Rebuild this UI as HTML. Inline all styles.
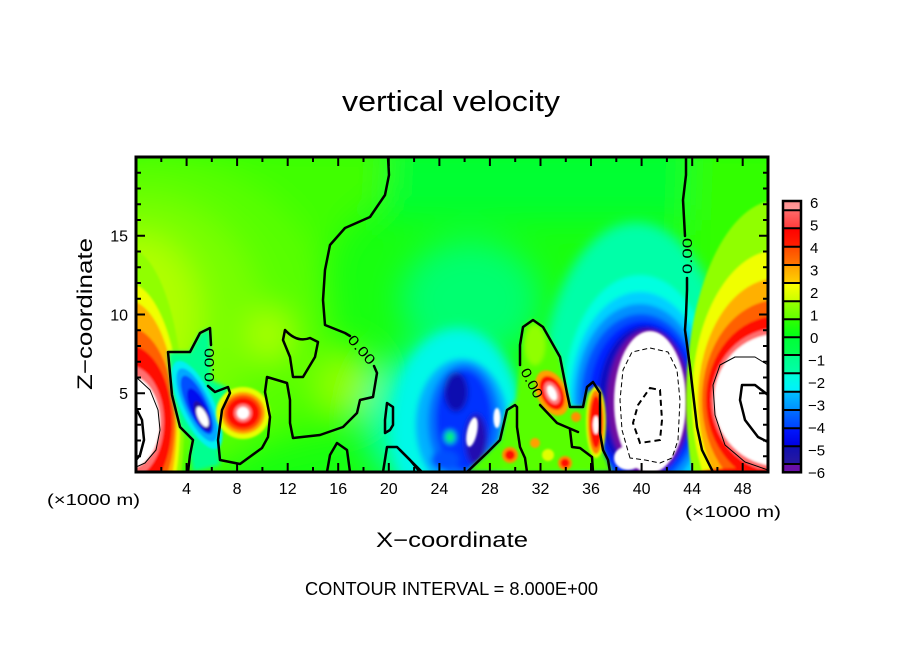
<!DOCTYPE html>
<html><head><meta charset="utf-8"><style>
html,body{margin:0;padding:0;background:#fff;}
svg{display:block;}
text{font-family:"Liberation Sans",sans-serif;fill:#000;}
</style></head><body>
<svg width="904" height="654" viewBox="0 0 904 654" xmlns="http://www.w3.org/2000/svg">
<defs>
<clipPath id="c"><rect x="136" y="157" width="632" height="315"/></clipPath>
<filter id="b16" filterUnits="userSpaceOnUse" x="0" y="0" width="904" height="654"><feGaussianBlur stdDeviation="16"/></filter>
<filter id="b6" filterUnits="userSpaceOnUse" x="0" y="0" width="904" height="654"><feGaussianBlur stdDeviation="6"/></filter>
<filter id="b3" filterUnits="userSpaceOnUse" x="0" y="0" width="904" height="654"><feGaussianBlur stdDeviation="3"/></filter>
<filter id="b2" filterUnits="userSpaceOnUse" x="0" y="0" width="904" height="654"><feGaussianBlur stdDeviation="2"/></filter>
<filter id="b1" filterUnits="userSpaceOnUse" x="0" y="0" width="904" height="654"><feGaussianBlur stdDeviation="1.1"/></filter>
<linearGradient id="g1" x1="0" y1="0" x2="0" y2="1"><stop offset="0" stop-color="#ff8c8c"/><stop offset="1" stop-color="#ff9c9c"/></linearGradient>
<linearGradient id="g2" x1="0" y1="0" x2="0" y2="1"><stop offset="0" stop-color="#ff6a6a"/><stop offset="1" stop-color="#ff3a3a"/></linearGradient>
<linearGradient id="g3" x1="0" y1="0" x2="0" y2="1"><stop offset="0" stop-color="#ff0000"/><stop offset="1" stop-color="#ff2000"/></linearGradient>
<linearGradient id="g4" x1="0" y1="0" x2="0" y2="1"><stop offset="0" stop-color="#ff4800"/><stop offset="1" stop-color="#ff7800"/></linearGradient>
<linearGradient id="g5" x1="0" y1="0" x2="0" y2="1"><stop offset="0" stop-color="#ffa000"/><stop offset="1" stop-color="#ffd000"/></linearGradient>
<linearGradient id="g6" x1="0" y1="0" x2="0" y2="1"><stop offset="0" stop-color="#ffff00"/><stop offset="1" stop-color="#c8ff00"/></linearGradient>
<linearGradient id="g7" x1="0" y1="0" x2="0" y2="1"><stop offset="0" stop-color="#98ff00"/><stop offset="1" stop-color="#60ff00"/></linearGradient>
<linearGradient id="g8" x1="0" y1="0" x2="0" y2="1"><stop offset="0" stop-color="#30ff00"/><stop offset="1" stop-color="#00ff18"/></linearGradient>
<linearGradient id="g9" x1="0" y1="0" x2="0" y2="1"><stop offset="0" stop-color="#00ff38"/><stop offset="1" stop-color="#00ff50"/></linearGradient>
<linearGradient id="g10" x1="0" y1="0" x2="0" y2="1"><stop offset="0" stop-color="#00ff88"/><stop offset="1" stop-color="#00ffa8"/></linearGradient>
<linearGradient id="g11" x1="0" y1="0" x2="0" y2="1"><stop offset="0" stop-color="#00ffd8"/><stop offset="1" stop-color="#00f0ff"/></linearGradient>
<linearGradient id="g12" x1="0" y1="0" x2="0" y2="1"><stop offset="0" stop-color="#00c0ff"/><stop offset="1" stop-color="#0090ff"/></linearGradient>
<linearGradient id="g13" x1="0" y1="0" x2="0" y2="1"><stop offset="0" stop-color="#0070ff"/><stop offset="1" stop-color="#0040ff"/></linearGradient>
<linearGradient id="g14" x1="0" y1="0" x2="0" y2="1"><stop offset="0" stop-color="#0018ff"/><stop offset="1" stop-color="#0000e0"/></linearGradient>
<linearGradient id="g15" x1="0" y1="0" x2="0" y2="1"><stop offset="0" stop-color="#1010b0"/><stop offset="1" stop-color="#2818a0"/></linearGradient>
</defs>
<rect width="904" height="654" fill="#fff"/>

<g clip-path="url(#c)">
  <rect x="136" y="157" width="632" height="315" fill="#18ff10"/>
  <g filter="url(#b16)">
    <rect x="380" y="140" width="320" height="80" fill="#00ff30"/>
    <path d="M120,140 L388,140 L385,195 L345,228 L325,270 L325,330 L360,345 L377,373 L373,397 L345,427 L293,440 L265,445 L200,480 L120,480 Z" fill="#40ff00"/>
    <ellipse cx="140" cy="315" rx="190" ry="160" fill="#58ff00"/>
    <ellipse cx="140" cy="315" rx="120" ry="120" fill="#78ff00"/>
    <ellipse cx="140" cy="315" rx="60" ry="80" fill="#b0ff00"/>
    <ellipse cx="270" cy="335" rx="20" ry="25" fill="#b0ff00"/>
    <ellipse cx="345" cy="385" rx="30" ry="30" fill="#90ff00"/>
    <ellipse cx="420" cy="420" rx="55" ry="70" fill="#00ffb0"/>
    <ellipse cx="470" cy="300" rx="70" ry="60" fill="#00ff70"/>
    <path d="M690,140 L790,140 L790,480 L712,480 L690,370 L685,300 Z" fill="#30ff00"/>
  </g>
  <!-- dome -->
  <ellipse cx="636" cy="400" rx="96" ry="178" fill="#00ffa8" filter="url(#b6)"/>
  <g filter="url(#b2)">
    <ellipse cx="640" cy="400" rx="76" ry="125" fill="#00ffe0"/>
    <ellipse cx="640" cy="400" rx="70" ry="108" fill="#00d0ff"/>
    <ellipse cx="640" cy="400" rx="65" ry="96" fill="#0090ff"/>
    <ellipse cx="641" cy="400" rx="60" ry="86" fill="#0050ff"/>
    <ellipse cx="643" cy="400" rx="54" ry="79" fill="#0020ff"/>
    <ellipse cx="645" cy="401" rx="47" ry="75" fill="#1010c0"/>
    <ellipse cx="648" cy="402" rx="41" ry="72" fill="#7010a0"/>
  </g>
  <ellipse cx="650" cy="402" rx="36" ry="71" fill="#fff" filter="url(#b1)"/>
  <ellipse cx="628" cy="458" rx="14" ry="12" fill="#fff" filter="url(#b1)"/>
  <!-- central blue -->
  <ellipse cx="458" cy="428" rx="66" ry="100" fill="#00f8e8" filter="url(#b6)"/>
  <g filter="url(#b3)">
    <ellipse cx="462" cy="425" rx="46" ry="66" fill="#00b0ff"/>
    <ellipse cx="464" cy="422" rx="36" ry="58" fill="#0070ff"/>
    <ellipse cx="464" cy="420" rx="28" ry="50" fill="#0030ff"/>
    <ellipse cx="456" cy="392" rx="12" ry="20" fill="#1010b0"/>
    <ellipse cx="476" cy="440" rx="11" ry="26" fill="#2010b0"/>
    <ellipse cx="450" cy="437" rx="5" ry="6" fill="#00ff60"/>
    <ellipse cx="445" cy="460" rx="14" ry="10" fill="#0050ff"/>
  </g>
  <g filter="url(#b1)">
    <ellipse cx="472" cy="432" rx="5" ry="15" fill="#fff" transform="rotate(12 472 432)"/>
    <ellipse cx="497" cy="418" rx="3.5" ry="10" fill="#fff"/>
  </g>
  <!-- tongue -->
  <g filter="url(#b2)">
    <path d="M467,472 L487,453 L500,440 L507,410 L517,407 L520,447 L527,472 Z" fill="#50ff00"/>
    <path d="M500,472 L507,410 L516,400 L520,367 L523,327 L533,319 L543,327 L560,357 L567,393 L570,407 L583,407 L588,390 L600,395 L603,450 L612,472 Z" fill="#58ff00"/>
    <ellipse cx="535" cy="345" rx="10" ry="20" fill="#90ff00"/>
  </g>
  <g filter="url(#b1)">
    <g transform="translate(552,393) rotate(-25)">
      <ellipse rx="15" ry="24" fill="#ffa000"/>
      <ellipse rx="11" ry="18" fill="#ff1000"/>
      <ellipse rx="7" ry="12" fill="#ff8080"/>
      <ellipse rx="4" ry="8" fill="#fff"/>
    </g>
    <g transform="translate(596,422)">
      <ellipse rx="10" ry="36" fill="#e0ff00"/>
      <ellipse rx="8" ry="32" fill="#ff8000"/>
      <ellipse rx="6" ry="26" fill="#ff1000"/>
      <ellipse cy="3" rx="3" ry="9" fill="#fff"/>
    </g>
    <circle cx="510" cy="455" r="8" fill="#ff9000"/>
    <circle cx="510" cy="455" r="5" fill="#ff1000"/>
    <circle cx="565" cy="463" r="7" fill="#ff9000"/>
    <circle cx="565" cy="463" r="4.5" fill="#ff1000"/>
    <circle cx="576" cy="417" r="5" fill="#ff9000"/>
    <circle cx="535" cy="443" r="5" fill="#ffa000"/>
    <circle cx="548" cy="455" r="6" fill="#e0ff00"/>
  </g>
  <!-- left warm blob -->
  <g filter="url(#b1)">
    <ellipse cx="126" cy="422" rx="58" ry="175" fill="#90ff00"/>
    <ellipse cx="126" cy="422" rx="54" ry="140" fill="#f0ff00"/>
    <ellipse cx="127" cy="422" rx="50" ry="122" fill="#ffb000"/>
    <ellipse cx="128" cy="422" rx="47" ry="95" fill="#ff6000"/>
    <ellipse cx="128" cy="422" rx="44" ry="77" fill="#ff1000"/>
    <ellipse cx="128" cy="422" rx="36" ry="57" fill="#ff7070"/>
    <ellipse cx="128" cy="422" rx="32" ry="47" fill="#fff"/>
  </g>
  <!-- left streak -->
  <path d="M168,352 L190,352 L200,333 L210,328 L211,380 L228,388 L222,410 L218,440 L220,465 L193,472 L190,455 L193,440 L180,427 L172,395 Z" fill="#00ff90" filter="url(#b2)"/>
  <g filter="url(#b1)">
    <g transform="translate(197,405) rotate(-25)">
      <ellipse rx="17" ry="48" fill="#00f0f0"/>
      <ellipse rx="13" ry="40" fill="#00a8ff"/>
      <ellipse rx="10" ry="32" fill="#0050ff"/>
      <ellipse cy="6" rx="8" ry="24" fill="#0010f0"/>
      <ellipse cy="12" rx="6" ry="16" fill="#2010a0"/>
      <ellipse cy="13" rx="4.5" ry="11" fill="#fff"/>
    </g>
  </g>
  <!-- red blob -->
  <g filter="url(#b1)">
    <ellipse cx="243" cy="413" rx="27" ry="26" fill="#e8ff00"/>
    <ellipse cx="243" cy="413" rx="22" ry="21" fill="#ffa000"/>
    <ellipse cx="243" cy="413" rx="19" ry="18" fill="#ff5000"/>
    <ellipse cx="243" cy="413" rx="16" ry="15" fill="#ff1000"/>
    <ellipse cx="243" cy="413" rx="9" ry="9" fill="#ff8080"/>
    <ellipse cx="243" cy="413" rx="6" ry="6" fill="#fff"/>
  </g>
  <!-- right warm blob -->
  <g filter="url(#b1)">
    <ellipse cx="778" cy="400" rx="92" ry="200" fill="#90ff00"/>
    <ellipse cx="778" cy="400" rx="86" ry="150" fill="#f0ff00"/>
    <ellipse cx="778" cy="400" rx="80" ry="122" fill="#ffb000"/>
    <ellipse cx="778" cy="400" rx="76" ry="100" fill="#ff6000"/>
    <ellipse cx="778" cy="400" rx="72" ry="84" fill="#ff1000"/>
    <ellipse cx="778" cy="400" rx="67" ry="72" fill="#ff7070"/>
    <ellipse cx="778" cy="400" rx="64" ry="66" fill="#fff"/>
    <ellipse cx="740" cy="473" rx="42" ry="5" fill="#ff1000"/>
  </g>

  <!-- contours -->
  <g fill="none" stroke="#000" stroke-width="2.5" stroke-linejoin="round" stroke-linecap="round">
    <path d="M188,472 L190,455 L193,440 L180,427 L172,395 L168,352 L190,352 L200,333 L210,328 L211,345"/>
    <path d="M208,386 L215,392 L228,387 L230,393 L222,410 L218,440 L220,460 L240,464 L262,448 L268,437 L270,417 L265,392 L267,377 L287,383 L290,400 L290,423 L293,438 L320,435 L343,427 L357,413 L360,400 L373,397 L377,373 L374,366"/>
    <path d="M350,336 L345,333 L325,325 L323,300 L325,270 L330,245 L345,228 L370,217 L385,195 L389,175 L388,157"/>
    <path d="M285,330 Q297,343 310,338 L318,342 L315,357 L303,377 L293,377 L290,357 L283,340 Z"/>
    <path d="M387,403 L393,407 L393,425 L390,430 L385,433 L385,420 Z"/>
    <path d="M327,472 L330,455 L337,443 L347,450 L350,472"/>
    <path d="M383,472 L387,447 L397,447 L410,460 L420,472"/>
    <path d="M400,450 L422,472"/>
    <path d="M467,472 L487,453 L500,440 L507,410 L515,405 L517,407 L517,427 L520,447 L525,458 L527,472"/>
    <path d="M520,365 L520,345 L523,327 L533,320 L543,327 L560,357 L567,393 L570,407 L583,407 L587,387 L593,382 L600,393 L600,433 L603,450 L608,460 L610,472"/>
    <path d="M540,405 L557,423 L578,432"/>
    <path d="M570,430 L572,447 L580,448 L592,457 L593,472"/>
    <path d="M686,157 L686,175 L683,200 L685,236"/>
    <path d="M687,278 L687,290 L686,315 L685,330 L690,367 L697,427 L702,450 L713,472"/>
    <path d="M768,395 L755,385 L742,385 L740,400 L745,420 L758,437 L768,442"/>
    <path d="M136,408 L142,420 L144,440 L140,455 L136,460"/>
  </g>
  <g fill="none" stroke="#000" stroke-width="1" stroke-linejoin="round">
    <path d="M768,470 L745,462 L725,445 L715,415 L713,385 L720,365 L735,357 L755,357 L768,365"/>
    <path d="M136,377 L150,390 L158,410 L160,430 L156,450 L145,463 L136,467"/>
    <path d="M630,458 L622,430 L620,400 L623,370 L632,352 L650,348 L668,352 L677,370 L680,400 L678,440 L672,458 L660,463 L645,460 Z" stroke-dasharray="5,3"/>
  </g>
  <path d="M650,388 L660,390 L662,420 L660,440 L640,443 L633,423 L638,405 Z" fill="none" stroke="#000" stroke-width="2" stroke-dasharray="6,4"/>
  <!-- contour labels -->
  <text font-size="14" text-anchor="middle" textLength="36" lengthAdjust="spacingAndGlyphs" transform="translate(692,256) rotate(-90)">0.00</text>
  <text font-size="14" text-anchor="middle" textLength="34" lengthAdjust="spacingAndGlyphs" transform="translate(214,365) rotate(-90)">0.00</text>
  <text font-size="14" text-anchor="middle" textLength="34" lengthAdjust="spacingAndGlyphs" transform="translate(358,353) rotate(49)">0.00</text>
  <text font-size="14" text-anchor="middle" textLength="32" lengthAdjust="spacingAndGlyphs" transform="translate(527.6,385.3) rotate(62)">0.00</text>
</g>

<!-- frame -->
<rect x="136" y="157" width="632" height="315" fill="none" stroke="#000" stroke-width="3"/>
<g stroke="#000" stroke-width="2" fill="none">
  <path d="M186.6,472v-9M237.1,472v-9M287.7,472v-9M338.2,472v-9M388.8,472v-9M439.4,472v-9M489.9,472v-9M540.5,472v-9M591,472v-9M641.6,472v-9M692.2,472v-9M742.7,472v-9"/>
  <path d="M161.3,472v-5M211.8,472v-5M262.4,472v-5M313,472v-5M363.5,472v-5M414.1,472v-5M464.6,472v-5M515.2,472v-5M565.8,472v-5M616.3,472v-5M666.9,472v-5M717.4,472v-5"/>
  <path d="M186.6,157v9M237.1,157v9M287.7,157v9M338.2,157v9M388.8,157v9M439.4,157v9M489.9,157v9M540.5,157v9M591,157v9M641.6,157v9M692.2,157v9M742.7,157v9"/>
  <path d="M161.3,157v5M211.8,157v5M262.4,157v5M313,157v5M363.5,157v5M414.1,157v5M464.6,157v5M515.2,157v5M565.8,157v5M616.3,157v5M666.9,157v5M717.4,157v5"/>
  <path d="M136,393.25h9M136,314.5h9M136,235.75h9M768,393.25h-9M768,314.5h-9M768,235.75h-9"/>
  <path d="M136,456.25h5M136,440.5h5M136,424.75h5M136,409h5M136,377.5h5M136,361.75h5M136,346h5M136,330.25h5M136,298.75h5M136,283h5M136,267.25h5M136,251.5h5M136,220h5M136,204.25h5M136,188.5h5M136,172.75h5"/>
  <path d="M768,456.25h-5M768,440.5h-5M768,424.75h-5M768,409h-5M768,377.5h-5M768,361.75h-5M768,346h-5M768,330.25h-5M768,298.75h-5M768,283h-5M768,267.25h-5M768,251.5h-5M768,220h-5M768,204.25h-5M768,188.5h-5M768,172.75h-5"/>
</g>

<!-- titles and labels -->
<text x="342" y="111" font-size="29" textLength="218" lengthAdjust="spacingAndGlyphs">vertical velocity</text>
<text x="376" y="547" font-size="21" textLength="152" lengthAdjust="spacingAndGlyphs">X−coordinate</text>
<text font-size="21" text-anchor="middle" textLength="152" lengthAdjust="spacingAndGlyphs" transform="translate(92,314) rotate(-90)">Z−coordinate</text>
<text x="305" y="595" font-size="18" textLength="293" lengthAdjust="spacingAndGlyphs">CONTOUR INTERVAL = 8.000E+00</text>
<text x="47" y="505" font-size="16" textLength="93" lengthAdjust="spacingAndGlyphs">(×1000 m)</text>
<text x="685" y="517" font-size="16" textLength="96" lengthAdjust="spacingAndGlyphs">(×1000 m)</text>
<g font-size="16" text-anchor="middle">
  <text x="186.6" y="494">4</text><text x="237.1" y="494">8</text><text x="287.7" y="494">12</text>
  <text x="338.2" y="494">16</text><text x="388.8" y="494">20</text><text x="439.4" y="494">24</text>
  <text x="489.9" y="494">28</text><text x="540.5" y="494">32</text><text x="591" y="494">36</text>
  <text x="641.6" y="494">40</text><text x="692.2" y="494">44</text><text x="742.7" y="494">48</text>
</g>
<g font-size="16" text-anchor="end">
  <text x="128" y="241.5">15</text><text x="128" y="320.5">10</text><text x="128" y="399">5</text>
</g>

<!-- colorbar -->
<g>
  <rect x="783" y="201" width="18" height="9.3" fill="url(#g1)"/>
  <rect x="783" y="210.3" width="18" height="18" fill="url(#g2)"/>
  <rect x="783" y="228.3" width="18" height="18.4" fill="url(#g3)"/>
  <rect x="783" y="246.7" width="18" height="18.3" fill="url(#g4)"/>
  <rect x="783" y="265" width="18" height="18" fill="url(#g5)"/>
  <rect x="783" y="283" width="18" height="18.3" fill="url(#g6)"/>
  <rect x="783" y="301.3" width="18" height="18" fill="url(#g7)"/>
  <rect x="783" y="319.3" width="18" height="18" fill="url(#g8)"/>
  <rect x="783" y="337.3" width="18" height="17.7" fill="url(#g9)"/>
  <rect x="783" y="355" width="18" height="18.3" fill="url(#g10)"/>
  <rect x="783" y="373.3" width="18" height="18.4" fill="url(#g11)"/>
  <rect x="783" y="391.7" width="18" height="18.3" fill="url(#g12)"/>
  <rect x="783" y="410" width="18" height="18.3" fill="url(#g13)"/>
  <rect x="783" y="428.3" width="18" height="18" fill="url(#g14)"/>
  <rect x="783" y="446.3" width="18" height="17.7" fill="url(#g15)"/>
  <rect x="783" y="464" width="18" height="8.3" fill="#6a10a8"/>
  <path d="M783,210.3h18M783,228.3h18M783,246.7h18M783,265h18M783,283h18M783,301.3h18M783,319.3h18M783,337.3h18M783,355h18M783,373.3h18M783,391.7h18M783,410h18M783,428.3h18M783,446.3h18M783,464h18" stroke="#000" stroke-width="2"/>
  <rect x="783" y="201" width="18" height="271.3" fill="none" stroke="#000" stroke-width="2.5"/>
</g>
<g font-size="15">
  <text x="810" y="208">6</text><text x="810" y="230.5">5</text><text x="810" y="253">4</text>
  <text x="810" y="275.5">3</text><text x="810" y="298">2</text><text x="810" y="320.5">1</text>
  <text x="810" y="343">0</text><text x="808" y="365.5">−1</text><text x="808" y="388">−2</text>
  <text x="808" y="410.5">−3</text><text x="808" y="433">−4</text><text x="808" y="455.5">−5</text>
  <text x="808" y="478">−6</text>
</g>
</svg>
</body></html>
